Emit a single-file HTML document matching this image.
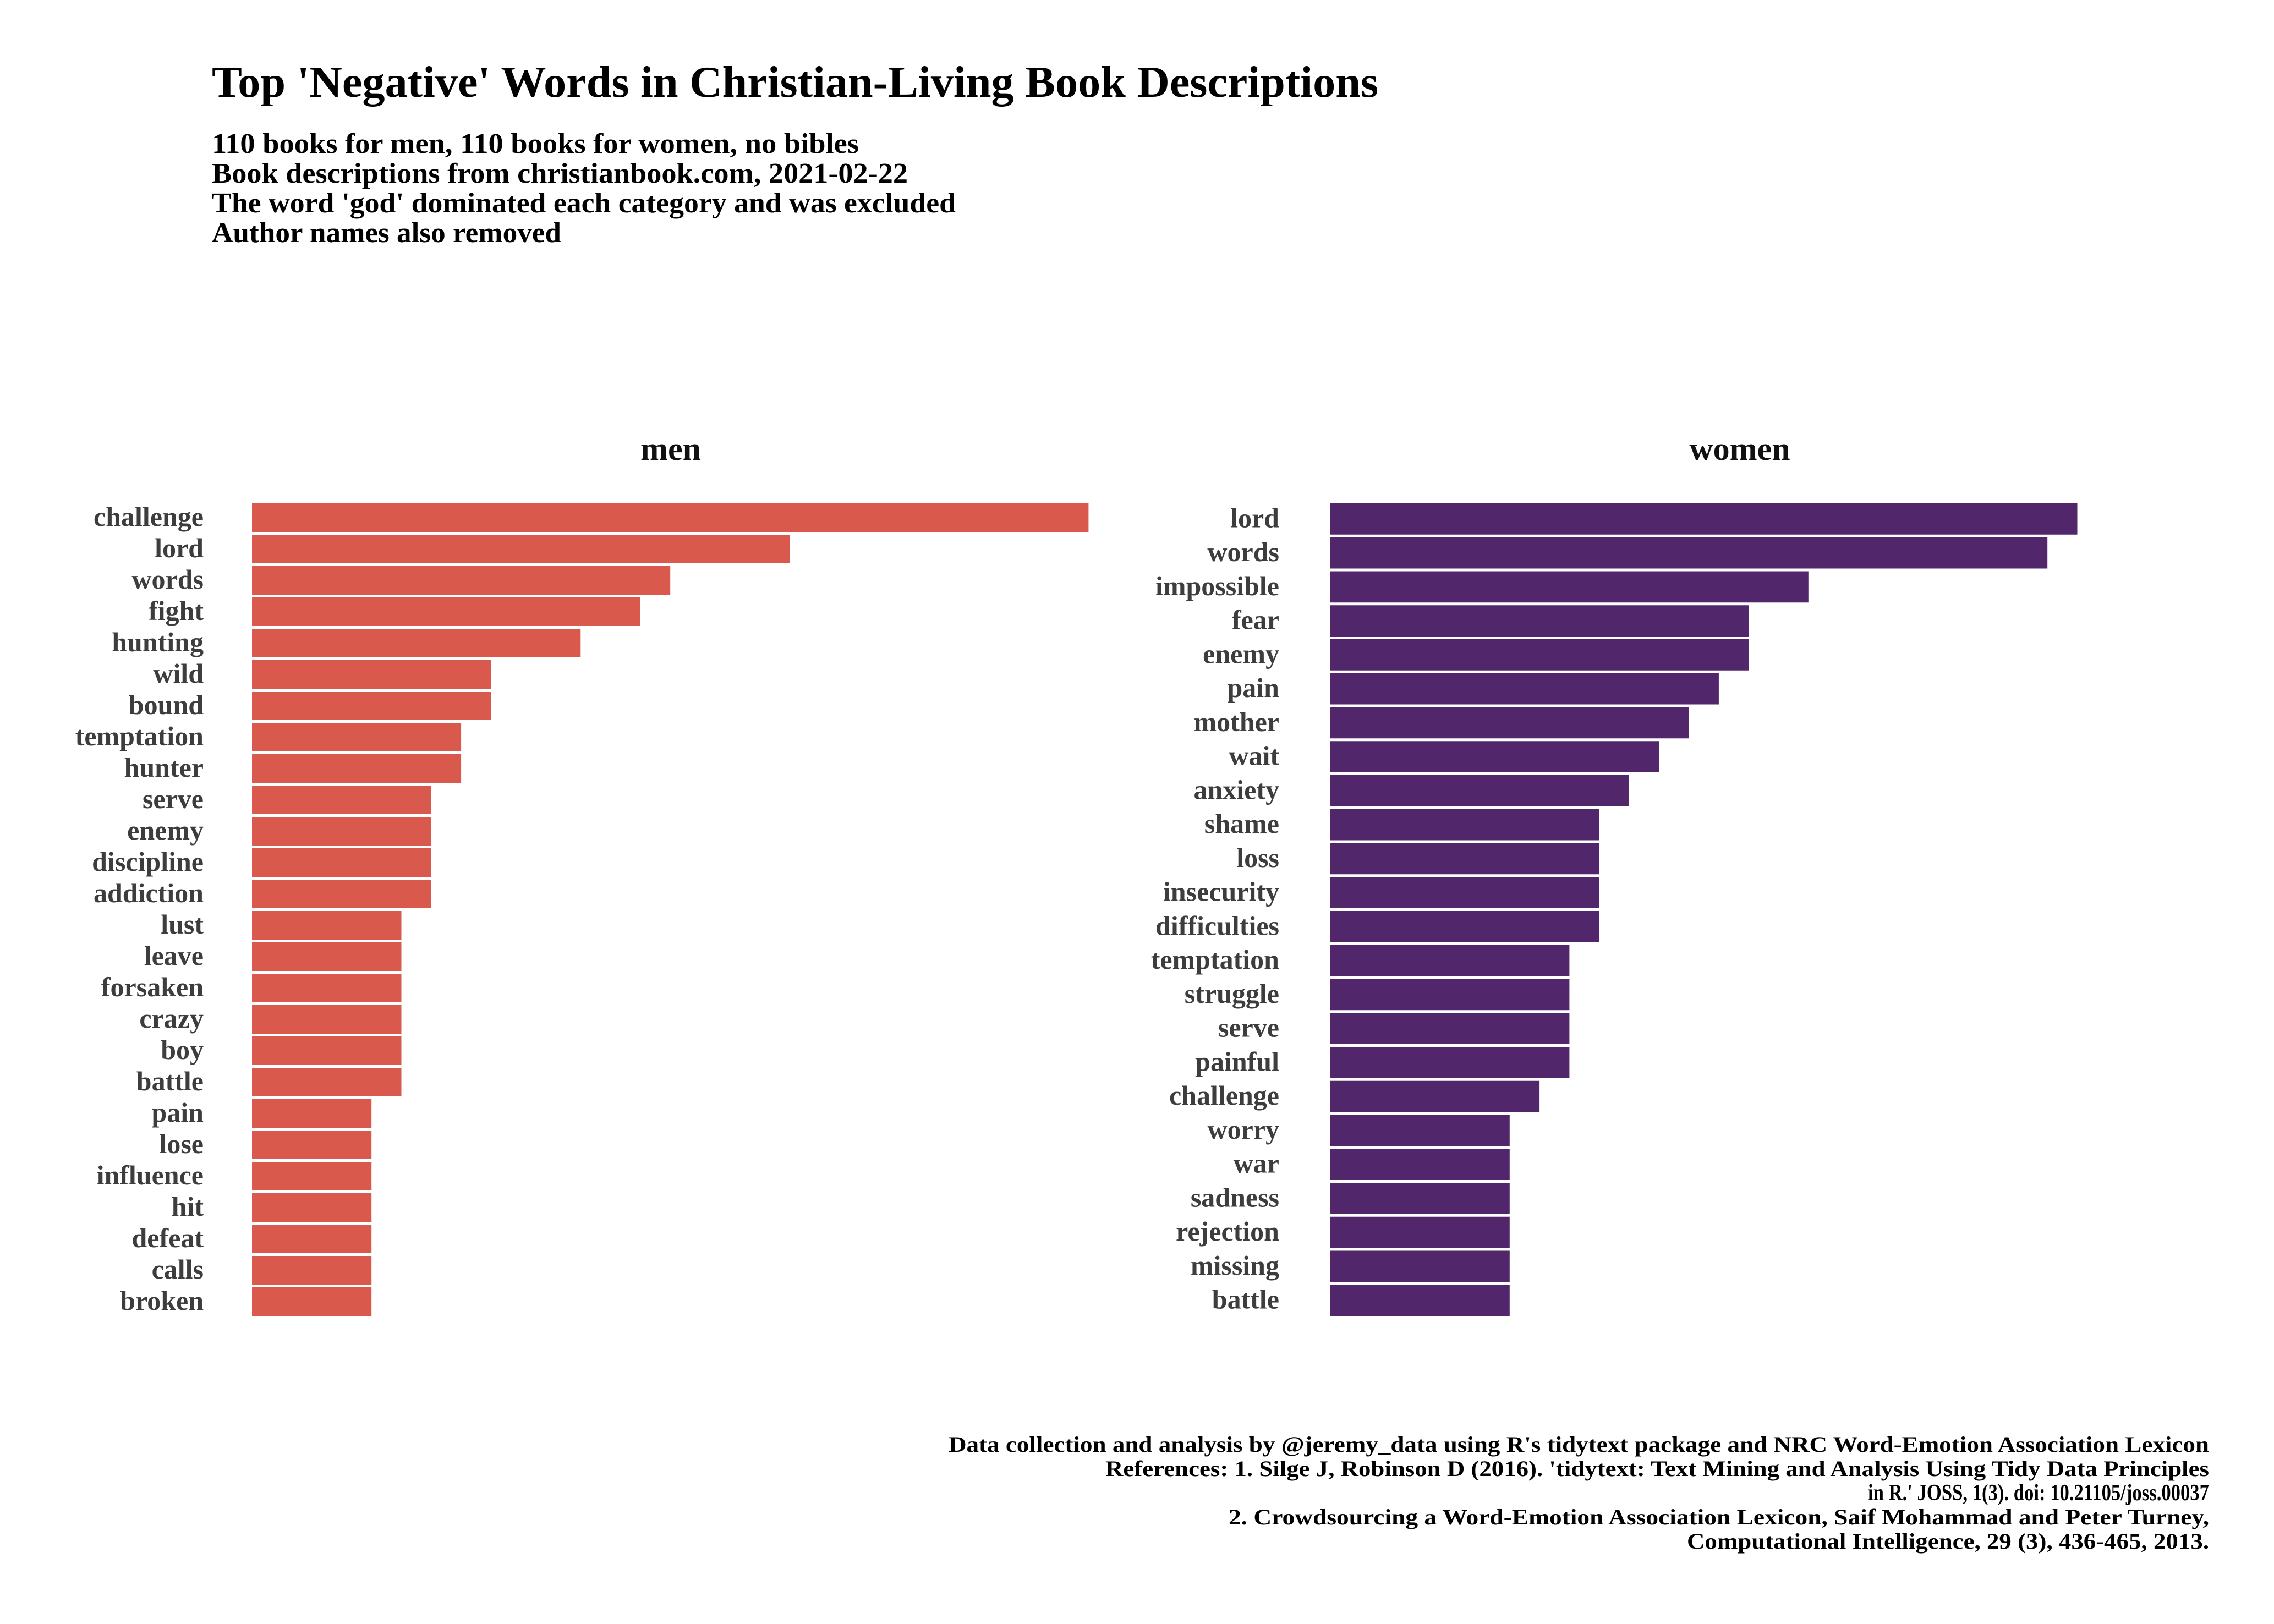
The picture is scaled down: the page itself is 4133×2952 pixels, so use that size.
<!DOCTYPE html>
<html><head><meta charset="utf-8"><style>
html,body{margin:0;padding:0;background:#fff;}
svg{display:block;font-family:"Liberation Serif",serif;}
</style></head><body>
<svg id="chart" width="4133" height="2952" viewBox="0 0 4133 2952">
<rect width="4133" height="2952" fill="#fff"/>
<text x="385" y="176" font-size="80" font-weight="bold" fill="#000" textLength="2120" lengthAdjust="spacingAndGlyphs">Top 'Negative' Words in Christian-Living Book Descriptions</text>
<g font-size="52" font-weight="bold" fill="#000">
<text x="385" y="278" textLength="1176" lengthAdjust="spacingAndGlyphs">110 books for men, 110 books for women, no bibles</text>
<text x="385" y="332" textLength="1265" lengthAdjust="spacingAndGlyphs">Book descriptions from christianbook.com, 2021-02-22</text>
<text x="385" y="386" textLength="1352" lengthAdjust="spacingAndGlyphs">The word 'god' dominated each category and was excluded</text>
<text x="385" y="440" textLength="635" lengthAdjust="spacingAndGlyphs">Author names also removed</text>
</g>
<g id="men-panel"></g>
<g id="women-panel"></g>
<g font-size="40" font-weight="bold" fill="#000" text-anchor="end">
<text x="4015" y="2639" textLength="2291" lengthAdjust="spacingAndGlyphs">Data collection and analysis by @jeremy_data using R's tidytext package and NRC Word-Emotion Association Lexicon</text>
<text x="4015" y="2683" textLength="2006" lengthAdjust="spacingAndGlyphs">References: 1. Silge J, Robinson D (2016). 'tidytext: Text Mining and Analysis Using Tidy Data Principles</text>
<text x="4015" y="2727" font-size="42" textLength="620" lengthAdjust="spacingAndGlyphs">in R.' JOSS, 1(3). doi: 10.21105/joss.00037</text>
<text x="4015" y="2771" textLength="1782" lengthAdjust="spacingAndGlyphs">2. Crowdsourcing a Word-Emotion Association Lexicon, Saif Mohammad and Peter Turney,</text>
<text x="4015" y="2815" textLength="949" lengthAdjust="spacingAndGlyphs">Computational Intelligence, 29 (3), 436-465, 2013.</text>
</g>
</svg>
<script>
const menWords = ["challenge","lord","words","fight","hunting","wild","bound","temptation","hunter","serve","enemy","discipline","addiction","lust","leave","forsaken","crazy","boy","battle","pain","lose","influence","hit","defeat","calls","broken"];
const menCounts = [28,18,14,13,11,8,8,7,7,6,6,6,6,5,5,5,5,5,5,4,4,4,4,4,4,4];
const womenWords = ["lord","words","impossible","fear","enemy","pain","mother","wait","anxiety","shame","loss","insecurity","difficulties","temptation","struggle","serve","painful","challenge","worry","war","sadness","rejection","missing","battle"];
const womenCounts = [25,24,16,14,14,13,12,11,10,9,9,9,9,8,8,8,8,7,6,6,6,6,6,6];

const NS = "http://www.w3.org/2000/svg";
const PX_PER_UNIT = 54.3;
const TOP = 915, BOTTOM = 2392, GAP = 5;
function xScale(x0, v){ return x0 + v*PX_PER_UNIT; }
function drawPanel(gid, title, words, counts, x0, labelX, titleX, color){
  const g = document.getElementById(gid);
  const t = document.createElementNS(NS,"text");
  t.setAttribute("x", titleX); t.setAttribute("y", 836);
  t.setAttribute("font-size","60"); t.setAttribute("font-weight","bold");
  t.setAttribute("text-anchor","middle"); t.setAttribute("fill","#111");
  t.textContent = title;
  
  
  g.appendChild(t);
  const n = words.length;
  const band = (BOTTOM - TOP + GAP) / n;
  for(let i=0;i<n;i++){
    const y = TOP + i*band;
    const r = document.createElementNS(NS,"rect");
    r.setAttribute("x", x0); r.setAttribute("y", y);
    r.setAttribute("width", xScale(x0, counts[i]) - x0);
    r.setAttribute("height", band - GAP);
    r.setAttribute("fill", color);
    
    
    g.appendChild(r);
    const l = document.createElementNS(NS,"text");
    l.setAttribute("x", labelX); l.setAttribute("y", y + (band-GAP)/2 + 15);
    l.setAttribute("font-size","50"); l.setAttribute("font-weight","bold");
    l.setAttribute("text-anchor","end"); l.setAttribute("fill","#3d3d3d");
    l.textContent = words[i];
    
    
    g.appendChild(l);
  }
}
drawPanel("men-panel","men",menWords,menCounts,458,370,1219,"#d9594c");
drawPanel("women-panel","women",womenWords,womenCounts,2418,2325,3162,"#51266b");
</script>
</body></html>
